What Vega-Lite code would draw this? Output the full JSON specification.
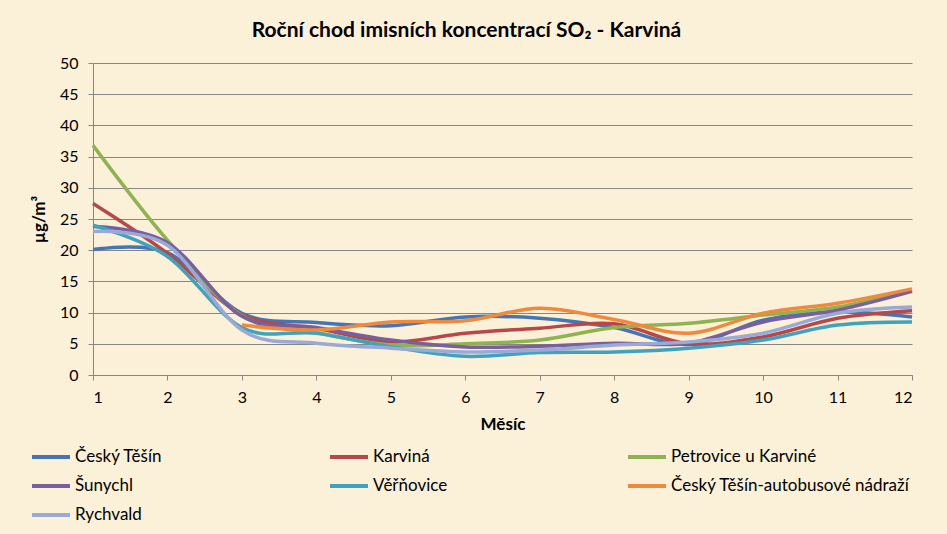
{
  "$schema": "https://vega.github.io/schema/vega-lite/v6.json",
  "width": 819,
  "height": 312,
  "autosize": {"type": "none"},
  "padding": {"left": 93, "top": 63, "right": 35, "bottom": 159},
  "background": "#FBF0D8",
  "title": {
    "text": "Roční chod imisních koncentrací SO₂ - Karviná",
    "font": "Lato",
    "fontSize": 21,
    "fontWeight": "bold",
    "color": "#000000",
    "anchor": "middle",
    "frame": "bounds",
    "offset": 14,
    "dx": -8
  },
  "config": {
    "view": {"stroke": null},
    "font": "Lato"
  },
  "data": {
    "values": [
      {"stanice": "Český Těšín", "mesic": 1, "hodnota": 20.1},
      {"stanice": "Český Těšín", "mesic": 2, "hodnota": 19.6},
      {"stanice": "Český Těšín", "mesic": 3, "hodnota": 9.9},
      {"stanice": "Český Těšín", "mesic": 4, "hodnota": 8.4},
      {"stanice": "Český Těšín", "mesic": 5, "hodnota": 7.9},
      {"stanice": "Český Těšín", "mesic": 6, "hodnota": 9.3},
      {"stanice": "Český Těšín", "mesic": 7, "hodnota": 9.1},
      {"stanice": "Český Těšín", "mesic": 8, "hodnota": 7.6},
      {"stanice": "Český Těšín", "mesic": 9, "hodnota": 4.9},
      {"stanice": "Český Těšín", "mesic": 10, "hodnota": 8.8},
      {"stanice": "Český Těšín", "mesic": 11, "hodnota": 10.1},
      {"stanice": "Český Těšín", "mesic": 12, "hodnota": 9.3},
      {"stanice": "Karviná", "mesic": 1, "hodnota": 27.5},
      {"stanice": "Karviná", "mesic": 2, "hodnota": 19.5},
      {"stanice": "Karviná", "mesic": 3, "hodnota": 9.7},
      {"stanice": "Karviná", "mesic": 4, "hodnota": 7.5},
      {"stanice": "Karviná", "mesic": 5, "hodnota": 5.3},
      {"stanice": "Karviná", "mesic": 6, "hodnota": 6.7},
      {"stanice": "Karviná", "mesic": 7, "hodnota": 7.5},
      {"stanice": "Karviná", "mesic": 8, "hodnota": 8.2},
      {"stanice": "Karviná", "mesic": 9, "hodnota": 5.0},
      {"stanice": "Karviná", "mesic": 10, "hodnota": 6.1},
      {"stanice": "Karviná", "mesic": 11, "hodnota": 9.1},
      {"stanice": "Karviná", "mesic": 12, "hodnota": 10.3},
      {"stanice": "Petrovice u Karviné", "mesic": 1, "hodnota": 36.8},
      {"stanice": "Petrovice u Karviné", "mesic": 2, "hodnota": 21.6},
      {"stanice": "Petrovice u Karviné", "mesic": 3, "hodnota": 9.5},
      {"stanice": "Petrovice u Karviné", "mesic": 4, "hodnota": 6.8},
      {"stanice": "Petrovice u Karviné", "mesic": 5, "hodnota": 4.8},
      {"stanice": "Petrovice u Karviné", "mesic": 6, "hodnota": 5.0},
      {"stanice": "Petrovice u Karviné", "mesic": 7, "hodnota": 5.6},
      {"stanice": "Petrovice u Karviné", "mesic": 8, "hodnota": 7.6},
      {"stanice": "Petrovice u Karviné", "mesic": 9, "hodnota": 8.3},
      {"stanice": "Petrovice u Karviné", "mesic": 10, "hodnota": 9.6},
      {"stanice": "Petrovice u Karviné", "mesic": 11, "hodnota": 10.9},
      {"stanice": "Petrovice u Karviné", "mesic": 12, "hodnota": 13.6},
      {"stanice": "Šunychl", "mesic": 1, "hodnota": 23.8},
      {"stanice": "Šunychl", "mesic": 2, "hodnota": 21.2},
      {"stanice": "Šunychl", "mesic": 3, "hodnota": 9.4},
      {"stanice": "Šunychl", "mesic": 4, "hodnota": 7.6},
      {"stanice": "Šunychl", "mesic": 5, "hodnota": 5.6},
      {"stanice": "Šunychl", "mesic": 6, "hodnota": 4.5},
      {"stanice": "Šunychl", "mesic": 7, "hodnota": 4.6},
      {"stanice": "Šunychl", "mesic": 8, "hodnota": 5.1},
      {"stanice": "Šunychl", "mesic": 9, "hodnota": 5.1},
      {"stanice": "Šunychl", "mesic": 10, "hodnota": 8.5},
      {"stanice": "Šunychl", "mesic": 11, "hodnota": 10.4},
      {"stanice": "Šunychl", "mesic": 12, "hodnota": 13.4},
      {"stanice": "Věřňovice", "mesic": 1, "hodnota": 24.0},
      {"stanice": "Věřňovice", "mesic": 2, "hodnota": 19.0},
      {"stanice": "Věřňovice", "mesic": 3, "hodnota": 7.6},
      {"stanice": "Věřňovice", "mesic": 4, "hodnota": 6.7},
      {"stanice": "Věřňovice", "mesic": 5, "hodnota": 4.5},
      {"stanice": "Věřňovice", "mesic": 6, "hodnota": 3.0},
      {"stanice": "Věřňovice", "mesic": 7, "hodnota": 3.6},
      {"stanice": "Věřňovice", "mesic": 8, "hodnota": 3.7},
      {"stanice": "Věřňovice", "mesic": 9, "hodnota": 4.3},
      {"stanice": "Věřňovice", "mesic": 10, "hodnota": 5.6},
      {"stanice": "Věřňovice", "mesic": 11, "hodnota": 8.0},
      {"stanice": "Věřňovice", "mesic": 12, "hodnota": 8.5},
      {"stanice": "Český Těšín-autobusové nádraží", "mesic": 3, "hodnota": 8.0},
      {"stanice": "Český Těšín-autobusové nádraží", "mesic": 4, "hodnota": 7.2},
      {"stanice": "Český Těšín-autobusové nádraží", "mesic": 5, "hodnota": 8.5},
      {"stanice": "Český Těšín-autobusové nádraží", "mesic": 6, "hodnota": 8.7},
      {"stanice": "Český Těšín-autobusové nádraží", "mesic": 7, "hodnota": 10.7},
      {"stanice": "Český Těšín-autobusové nádraží", "mesic": 8, "hodnota": 8.9},
      {"stanice": "Český Těšín-autobusové nádraží", "mesic": 9, "hodnota": 6.7},
      {"stanice": "Český Těšín-autobusové nádraží", "mesic": 10, "hodnota": 9.9},
      {"stanice": "Český Těšín-autobusové nádraží", "mesic": 11, "hodnota": 11.5},
      {"stanice": "Český Těšín-autobusové nádraží", "mesic": 12, "hodnota": 13.8},
      {"stanice": "Rychvald", "mesic": 1, "hodnota": 23.0},
      {"stanice": "Rychvald", "mesic": 2, "hodnota": 20.8},
      {"stanice": "Rychvald", "mesic": 3, "hodnota": 7.2},
      {"stanice": "Rychvald", "mesic": 4, "hodnota": 5.1},
      {"stanice": "Rychvald", "mesic": 5, "hodnota": 4.3},
      {"stanice": "Rychvald", "mesic": 6, "hodnota": 3.7},
      {"stanice": "Rychvald", "mesic": 7, "hodnota": 4.0},
      {"stanice": "Rychvald", "mesic": 8, "hodnota": 4.8},
      {"stanice": "Rychvald", "mesic": 9, "hodnota": 5.3},
      {"stanice": "Rychvald", "mesic": 10, "hodnota": 6.7},
      {"stanice": "Rychvald", "mesic": 11, "hodnota": 9.9},
      {"stanice": "Rychvald", "mesic": 12, "hodnota": 10.9}
    ]
  },
  "mark": {"type": "line", "interpolate": "cardinal", "strokeWidth": 3.5},
  "encoding": {
    "x": {
      "field": "mesic",
      "type": "quantitative",
      "scale": {"domain": [1, 12], "nice": false, "zero": false},
      "axis": {
        "title": "Měsíc",
        "values": [1, 2, 3, 4, 5, 6, 7, 8, 9, 10, 11, 12],
        "format": "d",
        "grid": false,
        "domainColor": "#868686",
        "tickColor": "#868686",
        "tickSize": 5,
        "labelFontSize": 16,
        "labelColor": "#000000",
        "labelPadding": 9,
        "labelFont": "Lato",
        "titleFont": "Lato",
        "titleFontSize": 17,
        "titleFontWeight": "bold",
        "titleColor": "#000000",
        "titlePadding": 11
      }
    },
    "y": {
      "field": "hodnota",
      "type": "quantitative",
      "scale": {"domain": [0, 50], "nice": false},
      "axis": {
        "title": "µg/m³",
        "values": [0, 5, 10, 15, 20, 25, 30, 35, 40, 45, 50],
        "grid": true,
        "gridColor": "#868686",
        "gridWidth": 1,
        "domainColor": "#868686",
        "tickColor": "#868686",
        "tickSize": 5,
        "labelFontSize": 16,
        "labelColor": "#000000",
        "labelPadding": 10,
        "labelFont": "Lato",
        "titleFont": "Lato",
        "titleFontSize": 17,
        "titleFontWeight": "bold",
        "titleColor": "#000000",
        "titlePadding": 11
      }
    },
    "color": {
      "field": "stanice",
      "type": "nominal",
      "scale": {
        "domain": ["Český Těšín", "Karviná", "Petrovice u Karviné", "Šunychl", "Věřňovice", "Český Těšín-autobusové nádraží", "Rychvald"],
        "range": ["#4576B3", "#B8474A", "#8FB351", "#7A5E9E", "#3FA3BE", "#EE8A3E", "#99AAD6"]
      },
      "legend": {
        "title": null,
        "orient": "none",
        "legendX": -63,
        "legendY": 373,
        "direction": "horizontal",
        "columns": 3,
        "gridAlign": "all",
        "columnPadding": 8,
        "rowPadding": -13,
        "padding": 0,
        "symbolType": "stroke",
        "symbolSize": 1444,
        "symbolStrokeWidth": 4,
        "labelFont": "Lato",
        "labelFontSize": 17,
        "labelColor": "#000000",
        "labelOffset": 3,
        "labelLimit": 400
      }
    }
  }
}
